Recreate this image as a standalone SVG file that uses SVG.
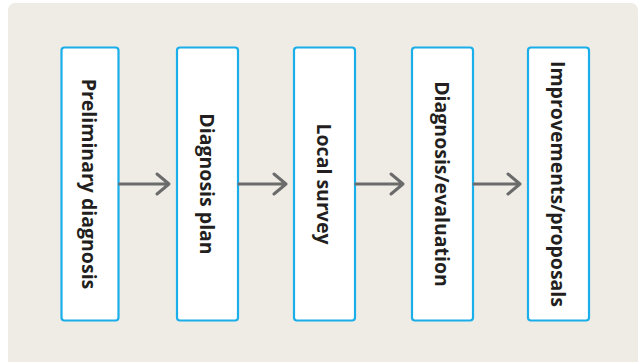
<svg xmlns="http://www.w3.org/2000/svg" width="639" height="362" viewBox="0 0 639 362">
<style>
.box{fill:#ffffff;stroke:#1aaeea;stroke-width:2.2}
.lbl{font-family:"Open Sans","Noto Sans",sans-serif;font-weight:bold;font-size:19.5px;fill:#231f20;text-anchor:middle;dominant-baseline:central}
.conn{fill:none;stroke:#6b6b6b;stroke-width:3;stroke-linecap:round;stroke-linejoin:round}
</style>
<rect x="8" y="3" width="630" height="372" rx="7" fill="#efece6"/>
<g id="n1"><rect class="box" x="61.5" y="47.5" width="57" height="273" rx="3"/><text class="lbl" transform="translate(89.5,184) rotate(90)">Preliminary diagnosis</text></g>
<g id="n2"><rect class="box" x="177" y="47.5" width="61" height="273" rx="3"/><text class="lbl" transform="translate(207.5,184) rotate(90)">Diagnosis plan</text></g>
<g id="n3"><rect class="box" x="294" y="47.5" width="61" height="273" rx="3"/><text class="lbl" transform="translate(324.5,184) rotate(90)">Local survey</text></g>
<g id="n4"><rect class="box" x="412" y="47.5" width="61" height="273" rx="3"/><text class="lbl" transform="translate(442.5,184) rotate(90)">Diagnosis/evaluation</text></g>
<g id="n5"><rect class="box" x="528" y="47.5" width="61" height="273" rx="3"/><text class="lbl" transform="translate(558.5,184) rotate(90)">Improvements/proposals</text></g>
<g id="connectors">
<path class="conn" d="M119.5 184H169M157 174L169 184L157 194"/>
<path class="conn" d="M239 184H286M274 174L286 184L274 194"/>
<path class="conn" d="M356 184H403M391 174L403 184L391 194"/>
<path class="conn" d="M474 184H520M508 174L520 184L508 194"/>
</g>
</svg>
